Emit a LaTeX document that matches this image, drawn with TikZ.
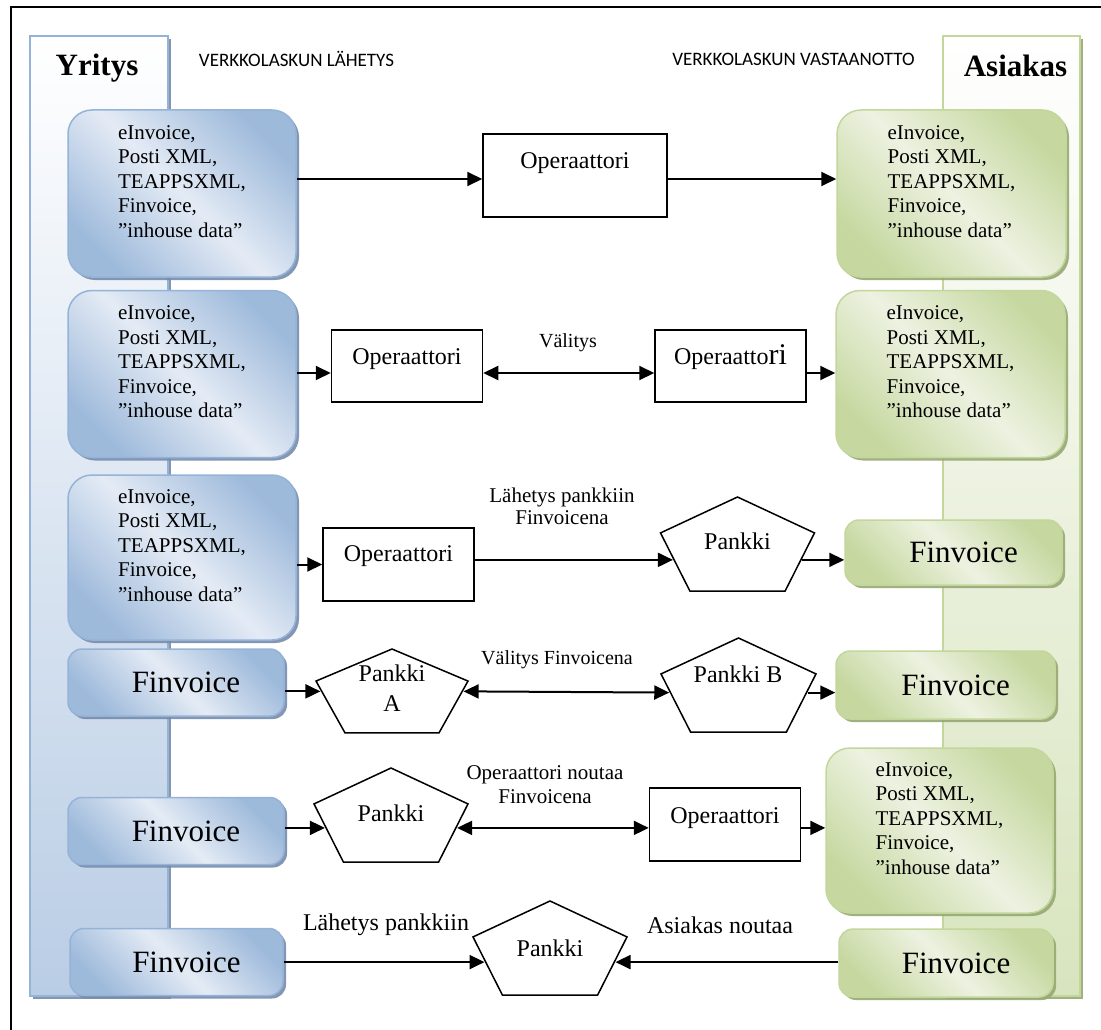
\documentclass[tikz,border=0pt]{standalone}
\usepackage{fontspec}
\setmainfont{Liberation Serif}
\newfontfamily\hdrfont{Carlito}
\usetikzlibrary{arrows.meta,calc,shapes.geometric,shadows}

\definecolor{blueedge}{RGB}{149,179,215}
\definecolor{bluedark}{RGB}{158,186,219}
\definecolor{bluelight}{RGB}{228,235,245}
\definecolor{blueshadow}{RGB}{118,140,172}
\definecolor{bluecol}{RGB}{185,205,229}
\definecolor{greenedge}{RGB}{195,214,155}
\definecolor{greendark}{RGB}{198,216,160}
\definecolor{greenlight}{RGB}{237,242,225}
\definecolor{greenshadow}{RGB}{150,168,115}
\definecolor{greencol}{RGB}{216,228,190}

\newcommand{\fs}[2]{\fontsize{#1}{#2}\selectfont}
\newcommand{\formats}{eInvoice,\\Posti XML,\\TEAPPSXML,\\Finvoice,\\”inhouse data”\\\mbox{}}
\newcommand{\fin}{\hspace*{20pt}Finvoice}

\begin{document}
\begin{tikzpicture}[
    x=1pt, y=-1pt,
    arr/.style={line width=2pt, -{Triangle[length=15pt, width=14pt]}},
    dbl/.style={line width=2pt, {Triangle[length=15pt, width=14pt]}-{Triangle[length=15pt, width=14pt]}},
    yr/.style={draw=blueedge, top color=bluedark, bottom color=bluedark, middle color=bluelight, shading angle=-45,
        drop shadow={shadow xshift=3pt, shadow yshift=-3pt, fill=blueshadow, opacity=.9}},
    as/.style={draw=greenedge, top color=greendark, bottom color=greendark, middle color=greenlight, shading angle=-45,
        drop shadow={shadow xshift=3pt, shadow yshift=-3pt, fill=greenshadow, opacity=.9}},
    listbox/.style={rectangle, rounded corners=24pt, line width=1.5pt, inner sep=0pt,
        minimum width=228pt, minimum height=167pt, align=left, font=\fs{21}{24.5}},
    finbox/.style={rectangle, rounded corners=14pt, line width=1.5pt, inner sep=0pt,
        minimum width=216pt, minimum height=67pt, font=\fs{31}{36}},
    op/.style={draw, rectangle, line width=1.5pt, inner sep=0pt, minimum width=151pt, minimum height=72pt,
        text height=18pt, text depth=#1, font=\fs{24}{28}},
    pankki/.style={draw, fill=white, regular polygon, regular polygon sides=5, line width=1.5pt,
        inner sep=0pt, minimum size=#1},
    lbl/.style={inner sep=0pt, align=center, font=\fs{20}{22}}]

\useasboundingbox (0,0) rectangle (1101,1030);
\draw[line width=2pt] (11,1030) -- (11,7) -- (1101,7);

% columns
\draw[draw=blueedge, line width=1.5pt, top color=white, bottom color=bluecol,
    drop shadow={shadow xshift=3pt, shadow yshift=-3pt, fill=blueshadow, opacity=.9}] (30,36) rectangle (168,996);
\draw[draw=greenedge, line width=1.5pt, top color=white, bottom color=greencol,
    drop shadow={shadow xshift=3pt, shadow yshift=-3pt, fill=greenshadow, opacity=.9}] (943,36) rectangle (1080,996);

\node[anchor=base, inner sep=0pt, font=\fs{31}{36}\bfseries] (Yr) at (97,76) {Yritys};
\node[anchor=base, inner sep=0pt, font=\fs{31}{36}\bfseries] (As) at (1015.5,77) {Asiakas};
\node[inner sep=0pt, font=\hdrfont\fs{19}{22}] (H1) at (296.5,59) {VERKKOLASKUN LÄHETYS};
\node[inner sep=0pt, font=\hdrfont\fs{19}{22}] (H2) at (793.5,59) {VERKKOLASKUN VASTAANOTTO};

% sender and receiver boxes
\node[listbox, yr] (B1) at (182,193.5) {\formats};
\node[listbox, yr] (B2) at (182,374) {\formats};
\node[listbox, yr, minimum height=165pt] (B3) at (182,557.5) {\formats};
\node[finbox, yr] (B4) at (176,682.5) {\fin};
\node[finbox, yr] (B5) at (176,831) {\fin};
\node[finbox, yr, minimum width=213pt] (B6) at (176.5,962) {\fin};

\node[listbox, as, minimum width=229pt] (G1) at (951.5,193.5) {\formats};
\node[listbox, as, minimum width=229pt] (G2) at (950.5,374) {\formats};
\node[finbox, as, minimum width=217pt, minimum height=65pt] (G3) at (953.5,552.5) {\fin};
\node[finbox, as, minimum width=219pt, minimum height=68pt] (G4) at (945.5,685) {\fin};
\node[listbox, as, minimum width=227pt, minimum height=165pt] (G5) at (939.5,830.5) {\formats};
\node[finbox, as, minimum width=214pt, minimum height=68pt] (G6) at (946,963) {\fin};

% operators
\node[op=33pt, minimum width=184pt, minimum height=83pt] (Op1) at (575,175.5) {Operaattori};
\node[op=22pt] (Op2) at (407,366) {Operaattori};
\node[op=22pt] (Op3) at (730.5,366) {Operaatto{\fs{30}{30}ri}};
\node[op=25pt, minimum height=73pt] (Op4) at (398.5,564.5) {Operaattori};
\node[op=21pt, minimum height=73pt] (Op5) at (725,824.5) {Operaattori};

% banks
\node[pankki=104pt, xscale=1.557] (P1) at (737.5,549) {};
\node[pankki=92.8pt, xscale=1.722] (PA) at (392,695.4) {};
\node[pankki=104pt, xscale=1.567] (PB) at (738.5,690) {};
\node[pankki=104pt, xscale=1.557] (P5) at (391,820) {};
\node[pankki=104pt, xscale=1.557] (P6) at (550,953) {};
\node[lbl, font=\fs{24}{30}] (P1t) at (737.5,541) {Pankki};
\node[lbl, font=\fs{24}{30}] (PAt) at (392,688) {Pankki\\A};
\node[lbl, font=\fs{24}{30}] (PBt) at (738,674) {Pankki B};
\node[lbl, font=\fs{24}{30}] (P5t) at (391,813) {Pankki};
\node[lbl, font=\fs{24}{30}] (P6t) at (550,948) {Pankki};

% labels
\node[lbl] (L1) at (568,343) {Välitys};
\node[lbl, font=\fs{21}{22}] (L2) at (562,506) {Lähetys pankkiin\\Finvoicena};
\node[lbl] (L3) at (557,660) {Välitys Finvoicena};
\node[lbl, font=\fs{21}{24}] (L4) at (545,785) {Operaattori noutaa\\Finvoicena};
\node[lbl, font=\fs{24}{28}] (L5) at (386,925) {Lähetys pankkiin};
\node[lbl, font=\fs{24}{28}] (L6) at (720,925) {Asiakas noutaa};

% points on the pentagon sides
\coordinate (P1in) at ($(P1.corner 2)!.46!(P1.corner 3)$);
\coordinate (P1out) at ($(P1.corner 5)!.46!(P1.corner 4)$);
\coordinate (PAin) at ($(PA.corner 2)!.2!(PA.corner 3)$);
\coordinate (PAout) at ($(PA.corner 5)!.2!(PA.corner 4)$);
\coordinate (PBin) at ($(PB.corner 2)!.32!(PB.corner 3)$);
\coordinate (PBout) at ($(PB.corner 5)!.32!(PB.corner 4)$);
\coordinate (P5in) at ($(P5.corner 2)!.41!(P5.corner 3)$);
\coordinate (P5out) at ($(P5.corner 5)!.41!(P5.corner 4)$);
\coordinate (P6in) at ($(P6.corner 2)!.43!(P6.corner 3)$);
\coordinate (P6out) at ($(P6.corner 5)!.43!(P6.corner 4)$);
\coordinate (Op1in) at ([yshift=-3.5pt]Op1.west);
\coordinate (Op1out) at ([yshift=-3.5pt]Op1.east);
\coordinate (Op2in) at ([yshift=-7pt]Op2.west);
\coordinate (Op2out) at ([yshift=-7pt]Op2.east);
\coordinate (Op3in) at ([yshift=-7pt]Op3.west);
\coordinate (Op3out) at ([yshift=-7pt]Op3.east);

% connectors
\draw[arr] (B1.east |- Op1in) -- (Op1in);
\draw[arr] (Op1out) -- (Op1out -| G1.west);

\draw[arr] (B2.east |- Op2in) -- (Op2in);
\draw[dbl] (Op2out) -- (Op3in);
\draw[arr] (Op3out) -- (Op3out -| G2.west);

\draw[arr] (B3.east |- Op4.west) -- (Op4.west);
\draw[arr] (Op4.east |- P1in) -- (P1in);
\draw[arr] (P1out) -- (P1out -| G3.west);

\draw[arr] (B4.east |- PAin) -- (PAin);
\draw[dbl] (PAout) -- (PBin);
\draw[arr] (PBout) -- (PBout -| G4.west);

\draw[arr] (B5.east |- P5in) -- (P5in);
\draw[dbl] (P5out) -- (P5out -| Op5.west);
\draw[arr] (Op5.east |- P5out) -- (P5out -| G5.west);

\draw[arr] (B6.east |- P6in) -- (P6in);
\draw[arr] (G6.west |- P6out) -- (P6out);

\end{tikzpicture}
\end{document}
